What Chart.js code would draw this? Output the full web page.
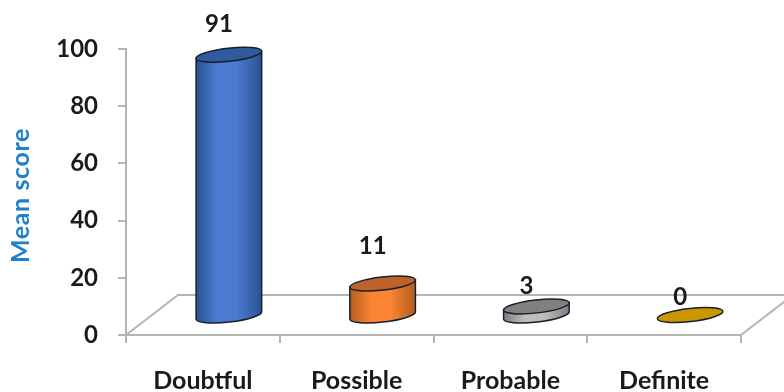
<!DOCTYPE html>
<html>
<head>
<meta charset="utf-8">
<style>
html, body { margin: 0; padding: 0; background: #fff; }
canvas { display: block; filter: blur(0.45px); }
</style>
<script src="https://cdn.jsdelivr.net/npm/chart.js@4"></script>
</head>
<body>
<canvas id="myChart" width="784" height="392"></canvas>
<script>
var categories = ['Doubtful', 'Possible', 'Probable', 'Definite'];
var meanScores = [91, 11, 3, 0];
var yTicks = [0, 20, 40, 60, 80, 100];

// edge, middle, top face
var cylinderColors = [
    ['#2a5293', '#4a7bd0', '#2f5a9e'],
    ['#b25c1f', '#f98532', '#bd6228'],
    ['#7d7d7d', '#bdbdbd', '#808080'],
    ['#b98a00', '#cc9600', '#cc9600']
];
var labelLift = [30, 37, 20, 18];

var axisGrey = '#b4b4b4';
var font = 'Lato, Carlito, sans-serif';

// floor of the fake 3d box, 52px across and 40px deep
var floorDepth = { dx: 52, dy: -40 };

var cylinders = {
    id: 'cylinders',
    beforeDatasetsDraw: function (chart) {
        var ctx = chart.ctx, a = chart.chartArea;
        ctx.save();
        ctx.strokeStyle = axisGrey;
        ctx.lineWidth = 2;
        ctx.beginPath();
        ctx.moveTo(a.left, a.bottom);
        ctx.lineTo(a.left + floorDepth.dx, a.bottom + floorDepth.dy);
        ctx.lineTo(a.right + floorDepth.dx, a.bottom + floorDepth.dy);
        ctx.lineTo(a.right, a.bottom);
        ctx.stroke();
        ctx.restore();
    },
    afterDatasetsDraw: function (chart) {
        var ctx = chart.ctx;
        var bars = chart.getDatasetMeta(0).data;
        var shiftX = floorDepth.dx / 2, shiftY = floorDepth.dy / 2;
        bars.forEach(function (bar, i) {
            var cx = bar.x + shiftX;
            var topY = bar.y + shiftY;
            var baseY = bar.base + shiftY + 1.5;
            var rx = bar.width / 2;
            var c = cylinderColors[i];
            var tilt = 6.5 * Math.PI / 180;
            var offX = rx * Math.cos(tilt), offY = rx * Math.sin(tilt);

            ctx.save();
            ctx.strokeStyle = '#16202c';
            ctx.lineWidth = 1.5;
            if (meanScores[i] > 0) {
                var g = ctx.createLinearGradient(cx - rx, 0, cx + rx, 0);
                g.addColorStop(0, c[0]);
                g.addColorStop(0.32, c[1]);
                g.addColorStop(0.62, c[1]);
                g.addColorStop(1, c[0]);
                ctx.fillStyle = g;
                ctx.beginPath();
                ctx.ellipse(cx, baseY, rx, 6.5, -tilt, 0, Math.PI);
                ctx.lineTo(cx - offX, topY + offY);
                ctx.lineTo(cx + offX, topY - offY);
                ctx.closePath();
                ctx.fill();
                ctx.stroke();
            }
            ctx.beginPath();
            ctx.ellipse(cx, topY, rx, 6.5, -tilt, 0, Math.PI * 2);
            ctx.fillStyle = c[2];
            ctx.fill();
            ctx.stroke();

            ctx.fillStyle = '#1a1a1a';
            ctx.font = 'bold 24px ' + font;
            ctx.textAlign = 'center';
            ctx.textBaseline = 'middle';
            ctx.fillText(meanScores[i], cx - 10, topY - labelLift[i]);
            ctx.restore();
        });

        // axis title sits a bit below the middle of the axis in the original
        ctx.save();
        ctx.translate(21, 195.5);
        ctx.rotate(-Math.PI / 2);
        ctx.fillStyle = '#1f80cc';
        ctx.font = 'bold 25px ' + font;
        ctx.letterSpacing = '0.6px';
        ctx.textAlign = 'center';
        ctx.textBaseline = 'middle';
        ctx.fillText('Mean score', 0, 0);
        ctx.restore();
    }
};

var ctx = document.getElementById('myChart').getContext('2d');
ctx.letterSpacing = '0.7px';

new Chart(ctx, {
    type: 'bar',
    data: {
        labels: categories,
        datasets: [{
            label: 'Mean score',
            data: meanScores,
            backgroundColor: 'transparent',
            barThickness: 66
        }]
    },
    plugins: [cylinders],
    options: {
        responsive: false,
        animation: false,
        layout: { padding: { top: 49, right: 43, left: 0, bottom: 0 } },
        plugins: { legend: { display: false }, tooltip: { enabled: false } },
        scales: {
            x: {
                afterFit: function (s) { s.height = 57; },
                border: { color: axisGrey, width: 2 },
                grid: { drawOnChartArea: false, color: axisGrey, lineWidth: 2, tickLength: 8, offset: true },
                ticks: { color: '#1a1a1a', padding: 23, maxRotation: 0, font: { family: font, size: 25, weight: 'bold' } }
            },
            y: {
                min: 0,
                max: 100,
                afterFit: function (s) { s.width = 126; },
                afterBuildTicks: function (s) { s.ticks = yTicks.map(function (v) { return { value: v }; }); },
                border: { color: axisGrey, width: 2 },
                grid: { drawOnChartArea: false, color: axisGrey, lineWidth: 2, tickLength: 8 },
                ticks: { color: '#1a1a1a', padding: 20, font: { family: font, size: 24, weight: 'bold' } }
            }
        }
    }
});
</script>
</body>
</html>
